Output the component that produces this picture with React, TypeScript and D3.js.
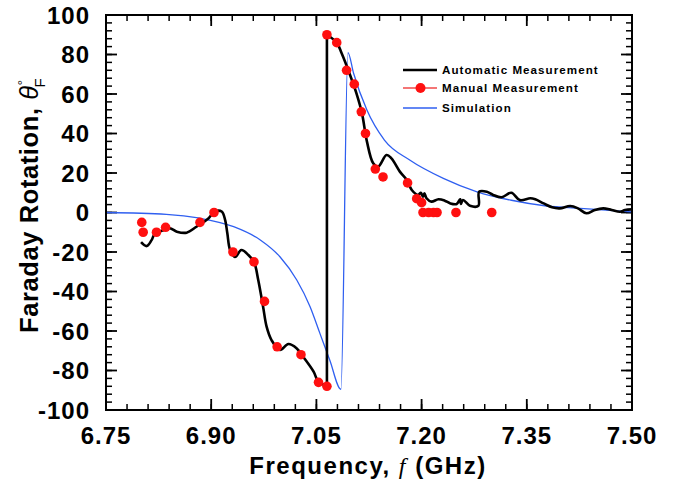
import * as d3 from 'd3';

// frequency (GHz) / rotation (deg)
const autoFreq = [6.800, 6.808, 6.815, 6.820, 6.832, 6.841, 6.851, 6.865, 6.879, 6.896, 6.905, 6.915, 6.920, 6.923, 6.927, 6.934, 6.943, 6.953, 6.961, 6.967, 6.974, 6.979, 6.986, 6.998, 7.010, 7.022, 7.031, 7.046, 7.053, 7.065, 7.065, 7.079, 7.086, 7.098, 7.107, 7.115, 7.122, 7.131, 7.138, 7.150, 7.157, 7.169, 7.179, 7.186, 7.195, 7.199, 7.202, 7.204, 7.207, 7.214, 7.224, 7.233, 7.241, 7.250, 7.255, 7.256, 7.259, 7.269, 7.281, 7.282, 7.293, 7.302, 7.314, 7.328, 7.340, 7.355, 7.362, 7.374, 7.386, 7.397, 7.412, 7.423, 7.435, 7.447, 7.459, 7.471, 7.483, 7.490, 7.500];
const autoRot = [-15, -17, -14, -10.5, -9, -8, -9.7, -10.2, -7.2, -3, 0.5, 0.5, -4, -10.5, -19, -22.5, -19, -21.5, -25, -34, -47.7, -57.8, -64.6, -69.6, -66.6, -68.8, -73, -80.6, -85.8, -87.5, 90, 86, 80.6, 69.6, 60.4, 50.2, 36, 24.9, 23.2, 29.1, 27.4, 20.7, 16.5, 11.4, 8.9, 10, 8, 9.7, 7.2, 5.5, 6.7, 6, 4.6, 4.3, 6.7, 4.3, 6.3, 3.4, 3.4, 10.5, 10.5, 8.9, 7.7, 10, 6.3, 7.2, 6.7, 4.6, 2.6, 2.1, 3.3, 2.1, -0.4, 1.3, 2.1, 1.3, 0.4, 1.3, 1.6];

const manualFreq = [6.801, 6.803, 6.822, 6.835, 6.884, 6.904, 6.931, 6.961, 6.976, 6.994, 7.028, 7.053, 7.065, 7.065, 7.079, 7.093, 7.104, 7.114, 7.120, 7.134, 7.145, 7.180, 7.193, 7.200, 7.202, 7.210, 7.217, 7.222, 7.249, 7.300];
const manualRot = [-5, -10, -10, -7.5, -5, 0, -20, -25, -45, -68, -72, -86, -88, 90, 86, 72, 65, 51, 40, 22, 18, 15, 7, 5, 0, 0, 0, 0, 0, 0];

const simFreq = [6.750, 6.836, 6.884, 6.932, 6.970, 6.998, 7.022, 7.041, 7.055, 7.069, 7.085, 7.095, 7.103, 7.122, 7.147, 7.183, 7.231, 7.279, 7.328, 7.378, 7.426, 7.473, 7.500];
const simRot = [0, -0.9, -2.9, -7.2, -13.9, -22.4, -34.2, -47.7, -61.2, -74.7, -89.5, 81, 70.5, 51.9, 36.7, 26.6, 17.3, 10.5, 6.2, 3.3, 2.1, 0.9, 0.3];

const xTicks = [6.75, 6.90, 7.05, 7.20, 7.35, 7.50];
const xTickLabels = ['6.75', '6.90', '7.05', '7.20', '7.35', '7.50'];
const yTicks = [100, 80, 60, 40, 20, 0, -20, -40, -60, -80, -100];
const yTickLabels = ['100', '80', '60', '40', '20', '0', '-20', '-40', '-60', '-80', '-100'];
const legendLabels = ['Automatic Measurement', 'Manual Measurement', 'Simulation'];

const W = 683;
const H = 483;
const left = 106, right = 632, top = 15, bottom = 410;
const font = 'Liberation Sans, Arial, Helvetica, sans-serif';
const RED = '#ff1010';
const BLUE = '#2f5ff0';

export default function App() {
  const x = d3.scaleLinear().domain([6.75, 7.5]).range([left, right]);
  const y = d3.scaleLinear().domain([-100, 100]).range([bottom, top]);

  const xMinor = d3.range(0, 26).map(i => 6.75 + i * 0.03);
  const yMinor = d3.range(0, 51).map(i => -100 + i * 4);

  // the automatic trace jumps straight up where two points share a frequency
  const pts = autoFreq.map((f, i) => [x(f), y(autoRot[i])] as [number, number]);
  const jump = autoFreq.findIndex((f, i) => i > 0 && f === autoFreq[i - 1]);
  const smooth = d3.line().curve(d3.curveCatmullRom.alpha(0.5));
  const autoPath = (smooth(pts.slice(0, jump)) || '') + 'L' + pts[jump].join(',') + (smooth(pts.slice(jump)) || '').replace(/^M[^CL]*/, '');

  const simLine = d3.line<number>()
    .x((_, i) => x(simFreq[i]))
    .y(d => y(d))
    .curve(d3.curveMonotoneX);

  return (
    <svg width={W} height={H} style={{ position: 'absolute', left: 0, top: 0, background: '#fff' }}>
      {/* minor ticks */}
      {xMinor.map((v, i) => (
        <g key={'xm' + i} stroke="#000" strokeWidth={1.5}>
          <line x1={x(v)} x2={x(v)} y1={bottom} y2={bottom - 6} />
          <line x1={x(v)} x2={x(v)} y1={top} y2={top + 6} />
        </g>
      ))}
      {yMinor.map((v, i) => (
        <g key={'ym' + i} stroke="#000" strokeWidth={1.5}>
          <line x1={left} x2={left + 6} y1={y(v)} y2={y(v)} />
          <line x1={right} x2={right - 6} y1={y(v)} y2={y(v)} />
        </g>
      ))}
      {/* major ticks */}
      {xTicks.map((v, i) => (
        <g key={'xt' + i} stroke="#000" strokeWidth={1.8}>
          <line x1={x(v)} x2={x(v)} y1={bottom} y2={bottom - 11} />
          <line x1={x(v)} x2={x(v)} y1={top} y2={top + 11} />
        </g>
      ))}
      {yTicks.map((v, i) => (
        <g key={'yt' + i} stroke="#000" strokeWidth={1.8}>
          <line x1={left} x2={left + 11} y1={y(v)} y2={y(v)} />
          <line x1={right} x2={right - 11} y1={y(v)} y2={y(v)} />
        </g>
      ))}

      {/* series */}
      <path d={simLine(simRot) || ''} fill="none" stroke={BLUE} strokeWidth={1.3} />
      <path d={autoPath} fill="none" stroke="#000" strokeWidth={2.6} strokeLinejoin="round" />
      {manualRot.map((v, i) => (
        <circle key={'m' + i} cx={x(manualFreq[i])} cy={y(v)} r={4.8} fill={RED} />
      ))}

      {/* frame */}
      <rect x={left} y={top} width={right - left} height={bottom - top} fill="none" stroke="#000" strokeWidth={2} />

      {/* tick labels */}
      {xTicks.map((v, i) => (
        <text key={'xl' + i} x={x(v)} y={444} textAnchor="middle" fontFamily={font} fontWeight="bold" fontSize={24} letterSpacing={1}>
          {xTickLabels[i]}
        </text>
      ))}
      {yTicks.map((v, i) => (
        <text key={'yl' + i} x={90} y={y(v) + 8.5} textAnchor="end" fontFamily={font} fontWeight="bold" fontSize={24} letterSpacing={1}>
          {yTickLabels[i]}
        </text>
      ))}

      {/* axis titles */}
      <text x={368} y={474} textAnchor="middle" fontFamily={font} fontWeight="bold" fontSize={24} letterSpacing={1.5}>
        Frequency,{' '}
        <tspan fontStyle="italic" fontWeight="normal" fontFamily="Liberation Serif, Times New Roman, serif">f</tspan>
        {' '}(GHz)
      </text>
      <text transform="translate(38,333) rotate(-90)" fontFamily={font} fontWeight="bold" fontSize={25.5} letterSpacing={0.6}>
        Faraday Rotation,{' '}
        <tspan fontStyle="italic" fontWeight="normal">θ</tspan>
        <tspan fontSize={13} fontWeight="normal" dy={-11}>°</tspan>
        <tspan fontSize={15} fontWeight="normal" dx={-8} dy={18}>F</tspan>
      </text>

      {/* legend */}
      {legendLabels.map((label, i) => {
        const ly = [70, 88, 108][i];
        const color = ['#000', '#f04848', BLUE][i];
        return (
          <g key={'lg' + i}>
            <line x1={403} x2={437} y1={ly} y2={ly} stroke={color} strokeWidth={i === 0 ? 2.6 : i === 1 ? 1.6 : 1.3} />
            {i === 1 && <circle cx={420.5} cy={ly} r={5} fill={RED} />}
            <text x={442} y={ly + 4.2} fontFamily={font} fontWeight="bold" fontSize={11.6} letterSpacing={1.05}>
              {label}
            </text>
          </g>
        );
      })}
    </svg>
  );
}
